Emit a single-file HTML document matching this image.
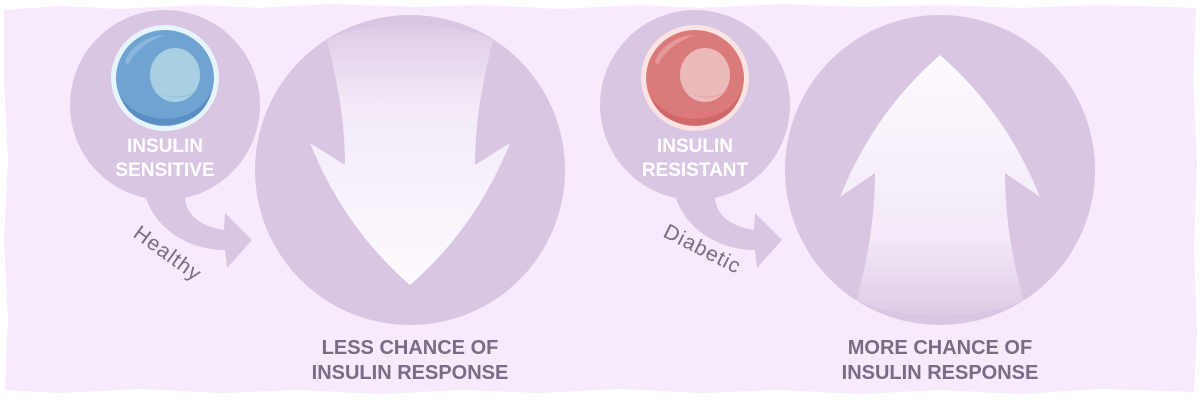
<!DOCTYPE html>
<html><head><meta charset="utf-8"><style>
body{margin:0;background:#fff;width:1200px;height:400px;overflow:hidden}
text{font-family:"Liberation Sans",sans-serif;font-weight:bold}
text.n{font-weight:normal}
</style></head><body>
<svg width="1200" height="400" viewBox="0 0 1200 400">
<defs>
<linearGradient id="wg" x1="0" y1="0" x2="0" y2="1"><stop offset="0" stop-color="#ddcbe6"/><stop offset="0.3" stop-color="#f3e9f8"/><stop offset="1" stop-color="#fdfaff"/></linearGradient>
<linearGradient id="wg2" x1="0" y1="0" x2="0" y2="1"><stop offset="0" stop-color="#fdfaff"/><stop offset="0.7" stop-color="#f3e9f8"/><stop offset="1" stop-color="#ddcbe6"/></linearGradient>
</defs>
<path d="M4,10 L60,6 L120,9 L200,5 L260,8 L330,4 L420,7 L480,5 L560,9 L640,5 L700,8 L780,4 L860,7 L940,5 L1020,8 L1100,5 L1196,8 L1193,80 L1197,160 L1194,250 L1197,330 L1194,392 L1100,389 L1020,394 L940,390 L860,394 L780,390 L700,393 L620,389 L540,393 L460,390 L380,394 L300,390 L220,393 L140,389 L60,393 L5,390 L8,320 L4,240 L8,160 L4,80 Z" fill="#f6eafc"/>
<g>
<circle cx="165" cy="105" r="95" fill="#d9c6e3"/>
<path d="M145,195 C155,230 190,250 225,250 L227,268 L252,240 L225,213 L224,230 C200,226 185,215 185,195 Z" fill="#d9c6e3"/>
<circle cx="410" cy="170" r="155" fill="#d9c6e3"/>
</g>
<path d="M327,40 C337,80 345,120 345,165 L310,143 C335,205 370,250 410,285 C450,250 485,205 510,143 L475,165 C475,120 483,80 493,40 C460,20 360,20 327,40 Z" fill="url(#wg)"/>
<g transform="translate(530,0)">
<circle cx="165" cy="105" r="95" fill="#d9c6e3"/>
<path d="M145,195 C155,230 190,250 225,250 L227,268 L252,240 L225,213 L224,230 C200,226 185,215 185,195 Z" fill="#d9c6e3"/>
<circle cx="410" cy="170" r="155" fill="#d9c6e3"/>
<path d="M327,300 C337,260 345,220 345,173 L310,197 C335,135 370,90 410,55 C450,90 485,135 510,197 L475,173 C475,220 483,260 493,300 C460,320 360,320 327,300 Z" fill="url(#wg2)"/>
</g>
<ellipse cx="165" cy="78" rx="54" ry="53" fill="#e8f4fb"/>
<ellipse cx="165" cy="78" rx="49" ry="48" fill="#6fa3d1"/>
<path d="M120,95 C135,125 195,130 212,90 C205,120 180,125 165,125 C140,125 125,112 120,95Z" fill="#5a8fc4"/>
<ellipse cx="175" cy="75" rx="25" ry="27" fill="#a9cfe3"/>
<path d="M150,80 C155,95 175,102 195,92 C185,100 160,102 150,80Z" fill="#8fbdd6"/>
<path d="M125,62 C130,45 150,35 165,35 C150,40 135,50 128,65Z" fill="#8cb6dd"/>
<ellipse cx="695" cy="78" rx="54" ry="53" fill="#fbe3e3"/>
<ellipse cx="695" cy="78" rx="49" ry="48" fill="#db7a7a"/>
<path d="M650,95 C665,125 725,130 742,90 C735,120 710,125 695,125 C670,125 655,112 650,95Z" fill="#cf6868"/>
<ellipse cx="705" cy="75" rx="25" ry="27" fill="#edbaba"/>
<path d="M680,80 C685,95 705,102 725,92 C715,100 690,102 680,80Z" fill="#e39f9f"/>
<path d="M655,62 C660,45 680,35 695,35 C680,40 665,50 658,65Z" fill="#e59a9a"/>
<g fill="#fff" font-size="19" text-anchor="middle">
<text x="165" y="152">INSULIN</text><text x="165" y="176">SENSITIVE</text>
<text x="695" y="152">INSULIN</text><text x="695" y="176">RESISTANT</text>
</g>
<g fill="#7a6b86" font-size="20" text-anchor="middle">
<text x="410" y="354">LESS CHANCE OF</text><text x="410" y="379">INSULIN RESPONSE</text>
<text x="940" y="354">MORE CHANCE OF</text><text x="940" y="379">INSULIN RESPONSE</text>
</g>
<g fill="#7a6b86" font-size="21">
<text class="n" x="132" y="236" transform="rotate(36 132 236)" letter-spacing="1">Healthy</text>
<text class="n" x="662" y="236" transform="rotate(27 662 236)" letter-spacing="1">Diabetic</text>
</g>
</svg>
</body></html>
